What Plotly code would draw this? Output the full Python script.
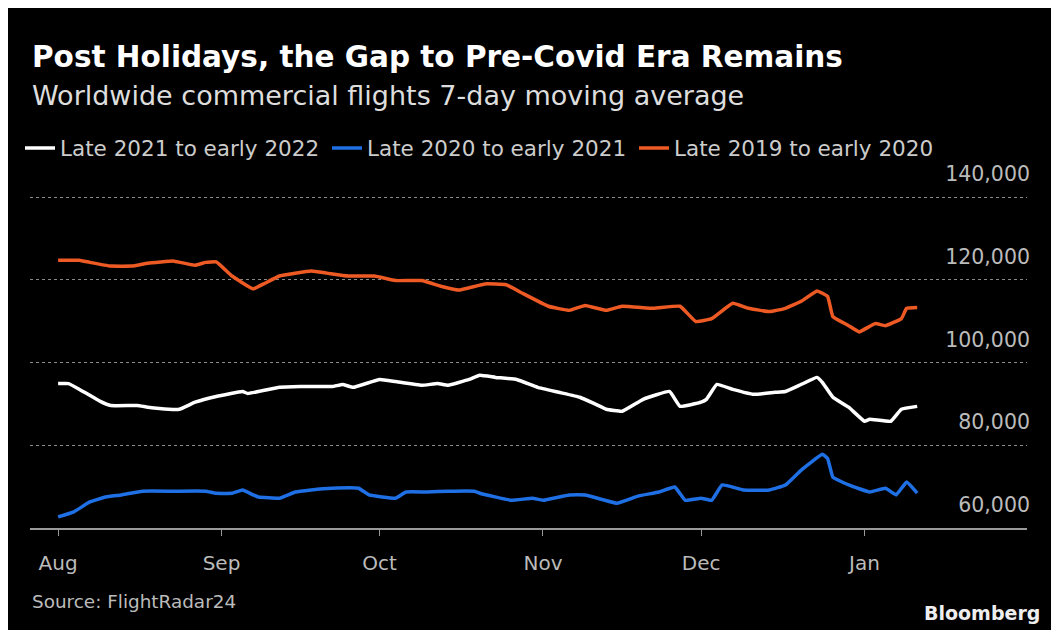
import plotly.graph_objects as go

# ---- data (7-day moving average of worldwide commercial flights) ----
white_dates = ["2021-08-01", "2021-08-03", "2021-08-06", "2021-08-09", "2021-08-11", "2021-08-16",
               "2021-08-18", "2021-08-22", "2021-08-24", "2021-08-27", "2021-08-31", "2021-09-05",
               "2021-09-06", "2021-09-12", "2021-09-16", "2021-09-22", "2021-09-24", "2021-09-26",
               "2021-10-01", "2021-10-04", "2021-10-09", "2021-10-12", "2021-10-14", "2021-10-18",
               "2021-10-20", "2021-10-23", "2021-10-27", "2021-10-31", "2021-11-04", "2021-11-08",
               "2021-11-11", "2021-11-13", "2021-11-16", "2021-11-20", "2021-11-25", "2021-11-27",
               "2021-12-01", "2021-12-02", "2021-12-04", "2021-12-07", "2021-12-11", "2021-12-15",
               "2021-12-17", "2021-12-20", "2021-12-23", "2021-12-24", "2021-12-26", "2021-12-29",
               "2022-01-01", "2022-01-02", "2022-01-06", "2022-01-08", "2022-01-11"]
white_vals = [94900, 94900, 92800, 90600, 89600, 89600, 89200, 88700, 88700, 90400, 91800, 93000,
              92500, 94000, 94200, 94200, 94700, 94000, 95900, 95400, 94500, 94900, 94500, 95900,
              96900, 96400, 95900, 94000, 92800, 91600, 89900, 88700, 88200, 91100, 93000, 89400,
              90400, 91100, 94700, 93500, 92300, 92800, 93000, 94700, 96400, 95200, 91600, 89200,
              85800, 86300, 85800, 88700, 89400]

blue_dates = ["2021-08-01", "2021-08-04", "2021-08-07", "2021-08-10", "2021-08-13", "2021-08-17",
              "2021-08-23", "2021-08-29", "2021-08-31", "2021-09-03", "2021-09-05", "2021-09-07",
              "2021-09-08", "2021-09-12", "2021-09-15", "2021-09-18", "2021-09-22", "2021-09-27",
              "2021-09-29", "2021-10-04", "2021-10-06", "2021-10-10", "2021-10-14", "2021-10-19",
              "2021-10-20", "2021-10-26", "2021-10-30", "2021-11-01", "2021-11-06", "2021-11-09",
              "2021-11-15", "2021-11-19", "2021-11-23", "2021-11-26", "2021-11-28", "2021-12-01",
              "2021-12-03", "2021-12-05", "2021-12-09", "2021-12-14", "2021-12-17", "2021-12-20",
              "2021-12-24", "2021-12-25", "2021-12-26", "2021-12-29", "2022-01-02", "2022-01-05",
              "2022-01-07", "2022-01-09", "2022-01-11"]
blue_vals = [62700, 63900, 66300, 67500, 68000, 68900, 68900, 68900, 68400, 68400, 69200, 68000,
             67500, 67200, 68700, 69200, 69600, 69600, 68000, 67200, 68700, 68700, 68900, 68900,
             68400, 66700, 67200, 66700, 68000, 68000, 66000, 67700, 68700, 69900, 66700, 67200,
             66700, 70400, 69200, 69200, 70400, 74000, 77800, 76800, 72300, 70400, 68700, 69600,
             68000, 71100, 68400]

orange_dates = ["2021-08-01", "2021-08-05", "2021-08-07", "2021-08-11", "2021-08-15", "2021-08-18",
                "2021-08-23", "2021-08-27", "2021-08-29", "2021-08-31", "2021-09-03", "2021-09-07",
                "2021-09-09", "2021-09-12", "2021-09-18", "2021-09-21", "2021-09-25", "2021-09-30",
                "2021-10-04", "2021-10-09", "2021-10-13", "2021-10-16", "2021-10-21", "2021-10-25",
                "2021-10-28", "2021-11-02", "2021-11-06", "2021-11-09", "2021-11-13", "2021-11-16",
                "2021-11-22", "2021-11-27", "2021-11-30", "2021-12-03", "2021-12-07", "2021-12-10",
                "2021-12-14", "2021-12-17", "2021-12-20", "2021-12-23", "2021-12-25", "2021-12-26",
                "2021-12-29", "2021-12-31", "2022-01-03", "2022-01-05", "2022-01-08", "2022-01-09",
                "2022-01-11"]
orange_vals = [124700, 124700, 124200, 123300, 123300, 124000, 124500, 123500, 124200, 124300,
               120900, 117800, 119000, 120900, 122100, 121600, 120900, 120900, 119800, 119800,
               118300, 117500, 119000, 118800, 116800, 113600, 112600, 113800, 112600, 113600,
               113100, 113600, 109900, 110600, 114300, 113100, 112300, 113100, 114800, 117300,
               116000, 111100, 108900, 107400, 109400, 108900, 110600, 113100, 113300]

series_names = ["Late 2021 to early 2022", "Late 2020 to early 2021", "Late 2019 to early 2020"]
series_colors = ["#ffffff", "#1f6fe5", "#ee5a24"]

month_ticks = ["2021-08-01", "2021-09-01", "2021-10-01", "2021-11-01", "2021-12-01", "2022-01-01"]
month_labels = ["Aug", "Sep", "Oct", "Nov", "Dec", "Jan"]
y_ticks = [60000, 80000, 100000, 120000, 140000]

title = "Post Holidays, the Gap to Pre-Covid Era Remains"
subtitle = "Worldwide commercial flights 7-day moving average"
source = "Source: FlightRadar24"
brand = "Bloomberg"

FONT = "DejaVu Sans"

fig = go.Figure()
for dates, vals, name, color in zip([white_dates, blue_dates, orange_dates],
                                    [white_vals, blue_vals, orange_vals],
                                    series_names, series_colors):
    fig.add_trace(go.Scatter(x=dates, y=vals, mode="lines", name=name,
                             line=dict(color=color, width=3.5, shape="spline", smoothing=0.3)))

# plot area in figure pixels (page adds an 8px offset); the top is raised
# so the lifted 140,000 label stays inside the plot area
FW, FH = 1059, 630
L, R, T, B = 22, 1019, 153, 520
W, H = R - L, B - T


def px(x):
    return (x - L) / W


def py(y):
    return (B - y) / H


fig.update_layout(
    width=FW, height=FH,
    margin=dict(l=L, r=FW - R, t=T, b=FH - B, autoexpand=False),
    paper_bgcolor="#000000", plot_bgcolor="#000000",
    font=dict(family=FONT, color="#bbbbbb"),
    showlegend=True,
    legend=dict(orientation="h", x=px(12), xanchor="left", y=py(140), yanchor="middle",
                font=dict(family=FONT, size=21.5, color="#cccccc"),
                bgcolor="rgba(0,0,0,0)", itemwidth=30, entrywidth=262, entrywidthmode="pixels"),
    xaxis=dict(type="date", range=["2021-07-26 16:00", "2022-01-31 20:00"],
               tickvals=month_ticks, ticktext=month_labels,
               showgrid=False, zeroline=False,
               showline=True, linecolor="#9a9a9a", linewidth=2,
               ticks="outside", ticklen=6, tickcolor="#9a9a9a", tickwidth=1,
               tickfont=dict(family=FONT, size=20, color="#bbbbbb"),
               ticklabelstandoff=10),
    yaxis=dict(range=[60000, 148700], tickvals=y_ticks, tickformat=",",
               side="right", ticklabelposition="inside", ticklabelshift=-23,
               ticklabelstandoff=-6,
               showgrid=True, gridcolor="#8a8a8a", griddash="dot", gridwidth=1,
               zeroline=False, showline=False, ticks="",
               tickfont=dict(family=FONT, size=20.5, color="#bbbbbb")),
    annotations=[
        dict(text="<b>" + title + "</b>", xref="paper", yref="paper", x=0, y=py(49),
             xanchor="left", yanchor="middle", showarrow=False,
             font=dict(family=FONT, size=29.5, color="#ffffff")),
        dict(text=subtitle, xref="paper", yref="paper", x=0, y=py(87),
             xanchor="left", yanchor="middle", showarrow=False,
             font=dict(family=FONT, size=27, color="#dddddd")),
        dict(text=source, xref="paper", yref="paper", x=0, y=py(593),
             xanchor="left", yanchor="middle", showarrow=False,
             font=dict(family=FONT, size=18.4, color="#bbbbbb")),
        dict(text="<b>" + brand + "</b>", xref="paper", yref="paper", x=px(1034), y=py(605),
             xanchor="right", yanchor="middle", showarrow=False,
             font=dict(family=FONT, size=19, color="#eeeeee")),
    ],
)

fig.write_html("out.html")
